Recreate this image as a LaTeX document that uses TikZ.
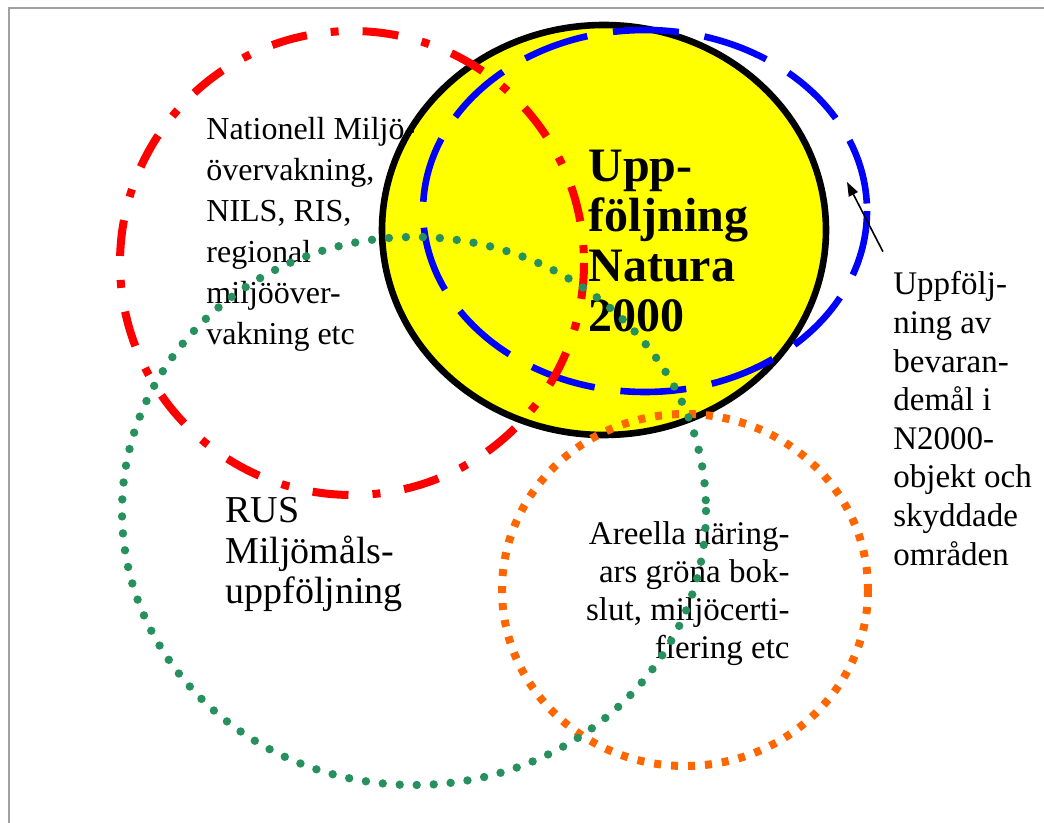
\documentclass[tikz,border=0pt]{standalone}
\usepackage{fontspec}
\setmainfont{Liberation Serif}
\usetikzlibrary{arrows.meta}

\definecolor{ringred}{RGB}{255,0,0}
\definecolor{ringblue}{RGB}{0,0,255}
\definecolor{ringgreen}{RGB}{38,145,92}
\definecolor{ringorange}{RGB}{255,102,0}
\definecolor{naturayellow}{RGB}{255,255,0}
\definecolor{framegray}{RGB}{160,160,160}

\begin{document}
\begin{tikzpicture}[x=0.5pt, y=-0.5pt,
    pageframe/.style={draw=framegray, line width=1pt},
    natura/.style={draw=black, fill=naturayellow, line width=3.3pt},
    bevaran/.style={draw=ringblue, line width=3.3pt, dash pattern=on 33pt off 13pt},
    nationell/.style={draw=ringred, line width=4pt, dash pattern=on 18pt off 12pt on 4pt off 12pt},
    areella/.style={draw=ringorange, line width=4pt, dash pattern=on 3.5pt off 5pt},
    rusring/.style={draw=ringgreen, line width=4.2pt, line cap=round, dash pattern=on 0pt off 8.5pt},
    ringtag/.style={inner sep=0pt, align=left, font=\fontsize{16}{20.5}\selectfont},
    bigtag/.style={inner sep=0pt, align=left, font=\fontsize{24}{25}\selectfont\bfseries}
  ]

  \useasboundingbox (0,0) rectangle (1044,823);
  \draw[pageframe] (9,823) |- (1044,8);

  % rings
  \draw[natura] (604,230) ellipse [x radius=222, y radius=205];
  \draw[bevaran] (645,211) ellipse [x radius=222, y radius=181];
  \draw[nationell] (352,263) ellipse [x radius=232, y radius=232];
  \draw[areella] (685,590) ellipse [x radius=183, y radius=176];

  % labels (base = last line)
  \node (nat) at (206,345) [ringtag, anchor=base west]
    {Nationell Milj\"o-\\\"overvakning,\\NILS, RIS,\\regional\\milj\"o\"over-\\vakning etc};
  \node (upp) at (588,332) [bigtag, anchor=base west]
    {Upp-\\f\"oljning\\Natura\\2000};
  \node (bev) at (893,565) [ringtag, anchor=base west, font=\fontsize{16.5}{19.3}\selectfont]
    {Uppf\"olj-\\ning av\\bevaran-\\dem\aa l i\\N2000-\\objekt och\\skyddade\\omr\aa den};
  \node (rus) at (225,603) [ringtag, anchor=base west, font=\fontsize{19}{20}\selectfont]
    {RUS\\Milj\"om\aa ls-\\uppf\"oljning};
  \node (are) at (790,658) [ringtag, align=right, anchor=base east, font=\fontsize{16.5}{19}\selectfont]
    {Areella n\"aring-\\ars gr\"ona bok-\\slut, milj\"ocerti-\\fiering etc};

  \draw[rusring] (414,511) ellipse [x radius=292, y radius=274];

  \coordinate (bevtip) at (847,182);
  \draw[-{Triangle[length=7pt,width=5pt]}, line width=0.8pt, shorten <=11pt] (bev.north west) -- (bevtip);
\end{tikzpicture}
\end{document}
